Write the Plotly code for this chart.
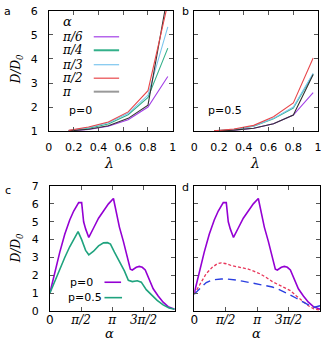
import numpy as np
import plotly.graph_objects as go

W, H = 327, 347

# ---------------- data ----------------
lam = [0.16, 0.32, 0.48, 0.64, 0.80, 0.96]
alpha_labels = ["π/6", "π/4", "π/3", "π/2", "π"]

a_pi6 = [1.01, 1.07, 1.20, 1.47, 2.00, 3.27]
a_pi4 = [1.02, 1.12, 1.30, 1.68, 2.40, 4.45]
a_pi3 = [1.02, 1.15, 1.35, 1.74, 2.50, 5.33]
a_pi2 = [1.03, 1.17, 1.38, 1.80, 2.68, 6.30]
a_pi = [1.01, 1.08, 1.22, 1.53, 2.08, 6.70]

b_pi6 = [1.00, 1.04, 1.12, 1.31, 1.67, 2.60]
b_pi4 = [1.01, 1.07, 1.20, 1.51, 1.96, 3.37]
b_pi3 = [1.01, 1.07, 1.21, 1.53, 2.00, 3.40]
b_pi2 = [1.01, 1.09, 1.24, 1.60, 2.17, 4.04]
b_pi = [1.00, 1.04, 1.12, 1.31, 1.67, 3.35]

alpha_p0 = [0, 0.25, 0.5, 0.75, 1.0, 1.2, 1.35, 1.45, 1.6, 1.7, 1.8, 1.96, 2.2, 2.45,
            2.7, 2.95, 3.2, 3.35, 3.5, 3.7, 3.9, 4.05, 4.15, 4.35, 4.5, 4.65, 4.8,
            5.0, 5.2, 5.45, 5.7, 5.95, 6.283]
D_p0 = [1.0, 2.2, 3.3, 4.3, 5.1, 5.6, 5.92, 6.07, 6.07, 5.0, 4.6, 4.12, 4.65, 5.2,
        5.6, 6.0, 6.3, 5.5, 4.7, 3.9, 3.0, 2.35, 2.3, 2.45, 2.5, 2.45, 2.3,
        1.75, 1.25, 0.85, 0.5, 0.25, 0.1]

alpha_p05 = [0, 0.25, 0.5, 0.75, 1.0, 1.2, 1.42, 1.6, 1.8, 1.96, 2.2, 2.45, 2.7, 2.9,
             3.05, 3.25, 3.5, 3.75, 3.95, 4.15, 4.4, 4.6, 4.85, 5.1, 5.4, 5.7, 6.0, 6.283]
D_p05 = [1.0, 1.7, 2.4, 3.0, 3.6, 4.05, 4.45, 4.0, 3.4, 3.15, 3.35, 3.65, 3.82, 3.83,
         3.75, 3.3, 2.8, 2.25, 1.72, 1.65, 1.7, 1.62, 1.2, 0.9, 0.6, 0.35, 0.18, 0.1]

alpha_d = [0, 0.3, 0.6, 0.9, 1.15, 1.35, 1.6, 1.85, 2.1, 2.4, 2.7, 3.0, 3.3, 3.6,
           3.9, 4.2, 4.5, 4.8, 5.1, 5.4, 5.7, 5.95, 6.283]
D_red = [0.95, 1.55, 2.1, 2.45, 2.65, 2.7, 2.65, 2.55, 2.5, 2.45, 2.35, 2.22, 2.08, 1.88,
         1.65, 1.48, 1.33, 1.15, 0.85, 0.55, 0.3, 0.14, 0.05]
D_blue = [0.95, 1.3, 1.6, 1.75, 1.8, 1.8, 1.8, 1.78, 1.74, 1.68, 1.62, 1.55, 1.48, 1.42,
          1.35, 1.22, 1.07, 0.9, 0.72, 0.52, 0.32, 0.2, 0.3]

alpha_tickvals = [0, np.pi / 2, np.pi, 3 * np.pi / 2]
alpha_ticktext = ['<span style="font-family:DejaVu Sans;font-style:normal">0</span>',
                  "π/2", "π", "3π/2"]
lam_tickvals = [0, 0.2, 0.4, 0.6, 0.8, 1]
lam_ticktext = ["0", "0.2", "0.4", "0.6", "0.8", "1"]

# ---------------- styles ----------------
cols = ["#a23fe6", "#33b08a", "#7cc6ee", "#e8474b", "#333333"]
PURPLE = "#9400d3"
GREEN = "#1fa37e"
SANS = "DejaVu Sans"
SERIF = "DejaVu Serif"

fig = go.Figure()

a_series = [a_pi6, a_pi4, a_pi3, a_pi2, a_pi]
b_series = [b_pi6, b_pi4, b_pi3, b_pi2, b_pi]
order = [0, 1, 2, 4, 3]
for i in order:
    fig.add_trace(go.Scatter(x=lam, y=a_series[i], mode="lines",
                             line=dict(color=cols[i], width=1.1),
                             xaxis="x", yaxis="y", showlegend=False))
for i in order:
    fig.add_trace(go.Scatter(x=lam, y=b_series[i], mode="lines",
                             line=dict(color=cols[i], width=1.1),
                             xaxis="x2", yaxis="y2", showlegend=False))

fig.add_trace(go.Scatter(x=alpha_p0, y=D_p0, mode="lines", line=dict(color=PURPLE, width=1.6),
                         xaxis="x3", yaxis="y3", showlegend=False))
fig.add_trace(go.Scatter(x=alpha_p05, y=D_p05, mode="lines", line=dict(color=GREEN, width=1.6),
                         xaxis="x3", yaxis="y3", showlegend=False))

fig.add_trace(go.Scatter(x=alpha_p0, y=D_p0, mode="lines", line=dict(color=PURPLE, width=1.6),
                         xaxis="x4", yaxis="y4", showlegend=False))
fig.add_trace(go.Scatter(x=alpha_d, y=D_red, mode="lines",
                         line=dict(color="#e8365a", width=1.3, dash="3px,2px"),
                         xaxis="x4", yaxis="y4", showlegend=False))
fig.add_trace(go.Scatter(x=alpha_d, y=D_blue, mode="lines",
                         line=dict(color="#2b3fe0", width=1.4, dash="8px,5px"),
                         xaxis="x4", yaxis="y4", showlegend=False))


def px(x):
    return x / W


def py(y):
    return 1 - y / H


axcommon = dict(showline=True, linecolor="black", linewidth=1, mirror="ticks",
                ticks="inside", ticklen=4, tickcolor="#555", tickwidth=1,
                showgrid=False, zeroline=False, ticklabeloverflow="allow")
sansfont = dict(family=SANS, size=11, color="black")
seriffont = dict(family=SERIF, size=12, color="black", style="italic")

xa = [46, 173]
xb = [195, 322]
xc = [47, 175]
xd = [195, 324]
ytop = [5, 130]
ybot = [187, 317]

lamticks = dict(tickvals=lam_tickvals, ticktext=lam_ticktext, tickfont=sansfont)
alphticks = dict(tickvals=alpha_tickvals, ticktext=alpha_ticktext, tickfont=seriffont)

fig.update_layout(
    width=W, height=H, margin=dict(l=0, r=0, t=0, b=0),
    paper_bgcolor="white", plot_bgcolor="white",
    xaxis=dict(domain=[px(xa[0]), px(xa[1])], range=[0, 1], anchor="y",
               ticklabelstandoff=6, **lamticks, **axcommon),
    yaxis=dict(domain=[py(ytop[1]), py(ytop[0])], range=[1, 6], anchor="x", dtick=1,
               ticklabelstandoff=8, tickfont=sansfont, **axcommon),
    xaxis2=dict(domain=[px(xb[0]), px(xb[1])], range=[0, 1], anchor="y2",
                ticklabelstandoff=6, **lamticks, **axcommon),
    yaxis2=dict(domain=[py(ytop[1]), py(ytop[0])], range=[1, 6], anchor="x2", dtick=1,
                showticklabels=False, **axcommon),
    xaxis3=dict(domain=[px(xc[0]), px(xc[1])], range=[0, 2 * np.pi], anchor="y3",
                ticklabelstandoff=-3, **alphticks, **axcommon),
    yaxis3=dict(domain=[py(ybot[1]), py(ybot[0])], range=[0, 7], anchor="x3", dtick=1,
                ticklabelstandoff=8, tickfont=sansfont, **axcommon),
    xaxis4=dict(domain=[px(xd[0]), px(xd[1])], range=[0, 2 * np.pi], anchor="y4",
                ticklabelstandoff=-3, **alphticks, **axcommon),
    yaxis4=dict(domain=[py(ybot[1]), py(ybot[0])], range=[0, 7], anchor="x4", dtick=1,
                showticklabels=False, **axcommon),
)

ann = []


def text(x, y, s, size=11, family=SANS, anchor="center", angle=0, italic=False):
    ann.append(dict(x=px(x), y=py(y), xref="paper", yref="paper", text=s, showarrow=False,
                    xanchor=anchor, yanchor="middle", textangle=angle,
                    font=dict(family=family, size=size, color="black",
                              style="italic" if italic else "normal")))


# panel letters
text(4, 6, "a", 11)
text(186, 6, "b", 11)
text(4, 192, "c", 11)
text(186, 189, "d", 11)

# axis titles
dd0 = "D/D<sub>0</sub>"
text(13, 66, dd0, 12, SERIF, angle=-90, italic=True)
text(13, 252, dd0, 12, SERIF, angle=-90, italic=True)
text(108, 163, "λ", 14, SERIF, italic=True)
text(257, 163, "λ", 14, SERIF, italic=True)
text(108, 340, "α", 13, SERIF, italic=True)
text(259, 340, "α", 13, SERIF, italic=True)

# legend panel a
text(58, 16, "α", 13, SERIF, anchor="left", italic=True)
leg_y = [32, 46, 61, 75, 89]
shapes = []
for i, lab in enumerate(alpha_labels):
    text(57, leg_y[i], lab, 12, SERIF, anchor="left", italic=True)
    shapes.append(dict(type="line", xref="paper", yref="paper",
                       x0=px(92), x1=px(118), y0=py(leg_y[i]), y1=py(leg_y[i]),
                       line=dict(color=cols[i] if i != 4 else "#999999",
                                 width=1.2 if i in (0, 2, 3) else 2)))
text(65, 109, "p=0", 11, SANS, anchor="left")
text(207, 109, "p=0.5", 11, SANS, anchor="left")

# legend panel c
text(66, 287, "p=0", 11, SANS, anchor="left")
text(64, 303, "p=0.5", 11, SANS, anchor="left")
shapes.append(dict(type="line", xref="paper", yref="paper", x0=px(103), x1=px(120),
                   y0=py(287), y1=py(287), line=dict(color=PURPLE, width=1.6)))
shapes.append(dict(type="line", xref="paper", yref="paper", x0=px(103), x1=px(121),
                   y0=py(303), y1=py(303), line=dict(color=GREEN, width=1.6)))

fig.update_layout(annotations=ann, shapes=shapes)
fig.write_html("out.html", config={"displayModeBar": False},
               post_script="document.body.style.margin='0';document.body.style.padding='0';"
                           "document.body.style.overflow='hidden';")
